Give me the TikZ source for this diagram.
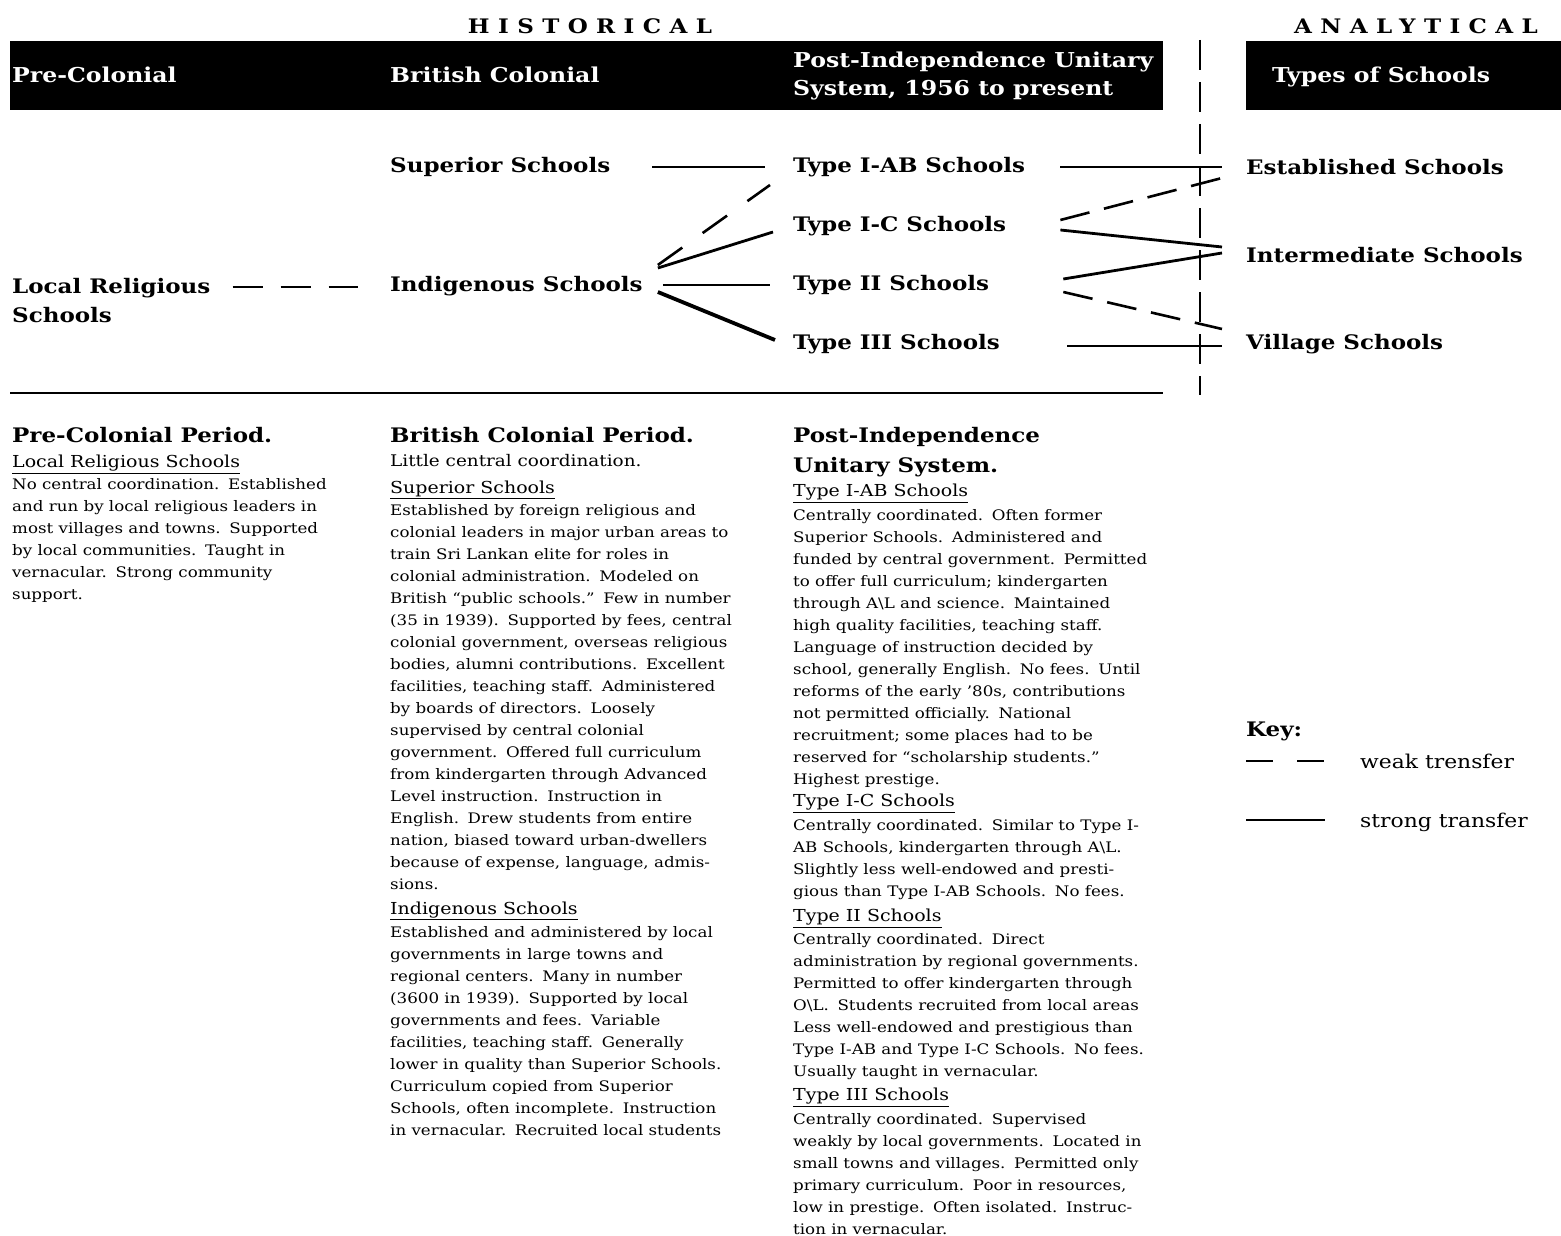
\documentclass[tikz,border=0pt]{standalone}
\usepackage{fontspec}
\setmainfont{DejaVu Serif}[FakeStretch=1.15]
\newfontfamily\spacedfont{DejaVu Serif}[LetterSpace=42,FakeStretch=1.15]
\usetikzlibrary{positioning}
\newcommand{\bodytextfont}{\fontsize{14.5}{22}\selectfont\xspaceskip=0.6em\relax}
\newcommand{\subhead}[1]{{\fontsize{16.5}{22}\selectfont\underline{#1}}}
\tikzset{
  barbox/.style={fill=black,draw=none},
  bartext/.style={text=white,font=\fontsize{20.5}{28}\selectfont\bfseries,anchor=west,align=left,inner sep=0pt},
  sidehead/.style={font=\spacedfont\fontsize{20}{20}\selectfont\bfseries,inner sep=0pt},
  schoolname/.style={font=\fontsize{20}{29}\selectfont\bfseries,anchor=west,align=left,inner sep=0pt},
  periodhead/.style={font=\fontsize{20}{30}\selectfont\bfseries,anchor=base west,align=left,inner sep=0pt},
  periodtext/.style={font=\bodytextfont,anchor=north west,align=left,inner sep=0pt},
  keytext/.style={font=\fontsize{19}{20}\selectfont,anchor=west,inner sep=0pt},
  strongline/.style={line width=2.4pt},
  heavyline/.style={line width=3.8pt},
  weakline/.style={line width=2.6pt,dash pattern=on 30pt off 15pt},
  axisline/.style={line width=1.6pt,dash pattern=on 30pt off 12pt}
}
\begin{document}
\begin{tikzpicture}[x=1pt,y=-1pt]
  \useasboundingbox (0,0) rectangle (1561,1236);
  % header bars
  \fill[barbox] (10,41) rectangle (1163,110);
  \fill[barbox] (1246,41) rectangle (1561,110);
  \node[sidehead] (histlabel) at (590,26) {HISTORICAL};
  \node[sidehead] (analabel) at (1416,26) {ANALYTICAL};
  \node[bartext] (barpre) at (12,75) {Pre-Colonial};
  \node[bartext] (barbrit) at (390,75) {British Colonial};
  \node[bartext] (barpost) at (793,76) {Post-Independence Unitary\\System, 1956 to present};
  \node[bartext] (bartypes) at (1272,77) {Types of Schools};
  \draw[axisline] (1200,40) -- (1200,395);
  \draw[line width=1.5pt] (10,393) -- (1163,393);

  % schools
  \node[schoolname] (locrel) at (12,301) {Local Religious\\Schools};
  \node[schoolname] (superior) at (390,167) {Superior Schools};
  \node[schoolname] (indig) at (390,286) {Indigenous Schools};
  \node[schoolname] (typeab) at (793,167) {Type I-AB Schools};
  \node[schoolname] (typec) at (793,226) {Type I-C Schools};
  \node[schoolname] (typetwo) at (793,285) {Type II Schools};
  \node[schoolname] (typethree) at (793,344) {Type III Schools};
  \node[schoolname] (established) at (1246,167) {Established Schools};
  \node[schoolname] (intermediate) at (1246,255) {Intermediate Schools};
  \node[schoolname] (village) at (1246,344) {Village Schools};

  % transfers
  \draw[weakline,line width=2pt,dash pattern=on 30pt off 18pt] ([shift={(22,-14)}]locrel.east) -- ([shift={(-32,1)}]indig.west);
  \draw[strongline] ([shift={(42,0)}]superior.east) -- ([shift={(-28,0)}]typeab.west);
  \draw[weakline,dash pattern=on 30pt off 25pt] ([shift={(15,-21)}]indig.east) -- ([shift={(-23,18)}]typeab.west);
  \draw[strongline,line width=2.8pt] ([shift={(15,-18)}]indig.east) -- ([shift={(-20,6)}]typec.west);
  \draw[strongline] ([shift={(20,-1)}]indig.east) -- ([shift={(-23,0)}]typetwo.west);
  \draw[heavyline] ([shift={(15,6)}]indig.east) -- ([shift={(-18,-4)}]typethree.west);
  \draw[strongline] ([shift={(35,0)}]typeab.east) -- ([shift={(-24,0)}]established.west);
  \draw[weakline] ([shift={(54,-6)}]typec.east) -- ([shift={(-24,11)}]established.west);
  \draw[strongline,line width=2.8pt] ([shift={(54,4)}]typec.east) -- ([shift={(-24,-8)}]intermediate.west);
  \draw[strongline,line width=2.8pt] ([shift={(74,-6)}]typetwo.east) -- ([shift={(-24,-2)}]intermediate.west);
  \draw[weakline] ([shift={(74,7)}]typetwo.east) -- ([shift={(-24,-15)}]village.west);
  \draw[strongline] ([shift={(67,2)}]typethree.east) -- ([shift={(-24,2)}]village.west);

  % periods
  \node[periodhead] (preperiod) at (12,442) {Pre-Colonial Period.};
  \node[periodtext] (predesc) at (12,455) {\subhead{Local Religious Schools}\\
    No central coordination. Established\\
    and run by local religious leaders in\\
    most villages and towns. Supported\\
    by local communities. Taught in\\
    vernacular. Strong community\\
    support.};

  \node[periodhead] (britperiod) at (390,442) {British Colonial Period.};
  \node[periodtext] (britdesc) at (390,454) {{\fontsize{16}{22}\selectfont Little central coordination.}\\[5pt]
    \subhead{Superior Schools}\\
    Established by foreign religious and\\
    colonial leaders in major urban areas to\\
    train Sri Lankan elite for roles in\\
    colonial administration. Modeled on\\
    British ``public schools.'' Few in number\\
    (35 in 1939). Supported by fees, central\\
    colonial government, overseas religious\\
    bodies, alumni contributions. Excellent\\
    facilities, teaching staff. Administered\\
    by boards of directors. Loosely\\
    supervised by central colonial\\
    government. Offered full curriculum\\
    from kindergarten through Advanced\\
    Level instruction. Instruction in\\
    English. Drew students from entire\\
    nation, biased toward urban-dwellers\\
    because of expense, language, admis-\\
    sions.\\[3pt]
    \subhead{Indigenous Schools}\\[1pt]
    Established and administered by local\\
    governments in large towns and\\
    regional centers. Many in number\\
    (3600 in 1939). Supported by local\\
    governments and fees. Variable\\
    facilities, teaching staff. Generally\\
    lower in quality than Superior Schools.\\
    Curriculum copied from Superior\\
    Schools, often incomplete. Instruction\\
    in vernacular. Recruited local students};

  \node[periodhead] (postperiod) at (793,472) {Post-Independence\\Unitary System.};
  \node[periodtext] (postdesc) at (793,484) {\subhead{Type I-AB Schools}\\[2pt]
    Centrally coordinated. Often former\\
    Superior Schools. Administered and\\
    funded by central government. Permitted\\
    to offer full curriculum; kindergarten\\
    through A\textbackslash L and science. Maintained\\
    high quality facilities, teaching staff.\\
    Language of instruction decided by\\
    school, generally English. No fees. Until\\
    reforms of the early '80s, contributions\\
    not permitted officially. National\\
    recruitment; some places had to be\\
    reserved for ``scholarship students.''\\
    Highest prestige.\\
    \subhead{Type I-C Schools}\\[2pt]
    Centrally coordinated. Similar to Type I-\\
    AB Schools, kindergarten through A\textbackslash L.\\
    Slightly less well-endowed and presti-\\
    gious than Type I-AB Schools. No fees.\\[3pt]
    \subhead{Type II Schools}\\[1pt]
    Centrally coordinated. Direct\\
    administration by regional governments.\\
    Permitted to offer kindergarten through\\
    O\textbackslash L\@. Students recruited from local areas\\
    Less well-endowed and prestigious than\\
    Type I-AB and Type I-C Schools. No fees.\\
    Usually taught in vernacular.\\[2pt]
    \subhead{Type III Schools}\\[2pt]
    Centrally coordinated. Supervised\\
    weakly by local governments. Located in\\
    small towns and villages. Permitted only\\
    primary curriculum. Poor in resources,\\
    low in prestige. Often isolated. Instruc-\\
    tion in vernacular.};

  % key
  \node[schoolname] (keyhead) at (1246,731) {Key:};
  \node[keytext] (weakkey) at (1360,761) {weak trensfer};
  \node[keytext] (strongkey) at (1360,822) {strong transfer};
  \draw[line width=2pt,dash pattern=on 27pt off 24pt] ([xshift=-114pt]weakkey.west) -- ([xshift=-35pt]weakkey.west);
  \draw[line width=2pt] ([shift={(-114,-2)}]strongkey.west) -- ([shift={(-35,-2)}]strongkey.west);
\end{tikzpicture}
\end{document}
